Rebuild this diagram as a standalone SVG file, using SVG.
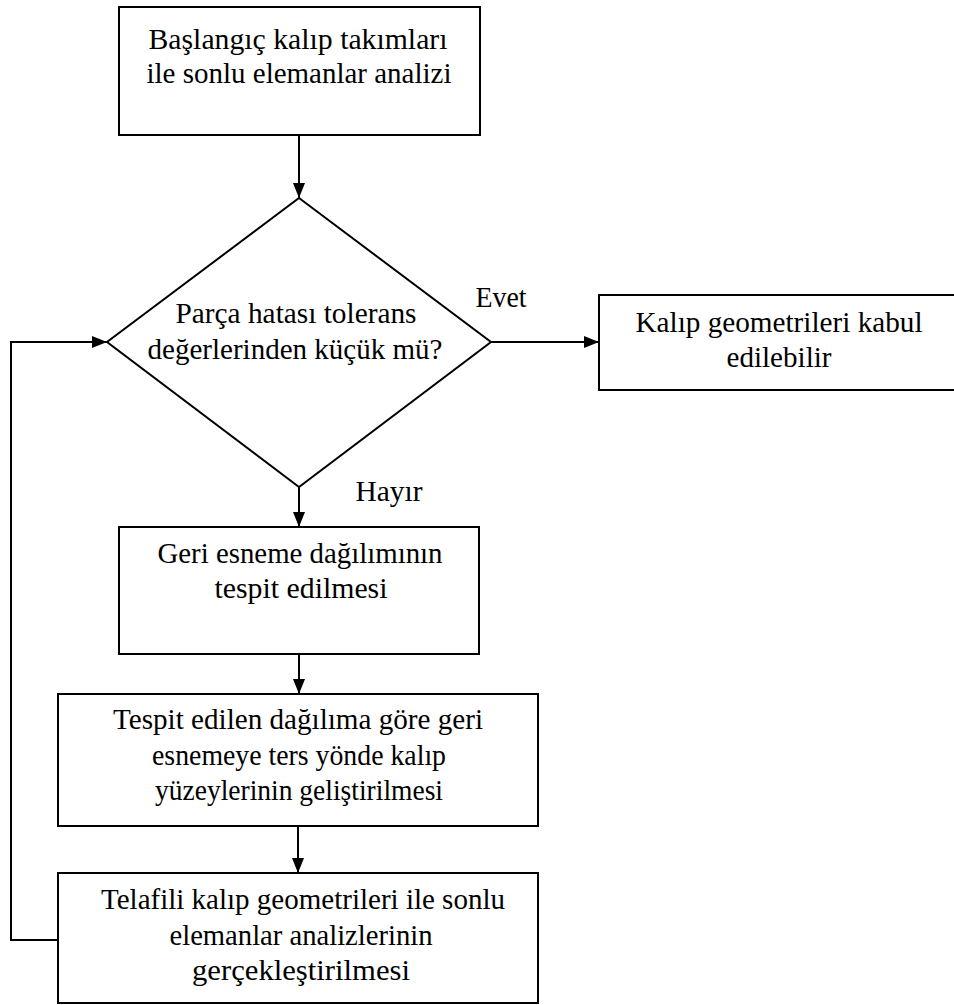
<svg xmlns="http://www.w3.org/2000/svg" width="954" height="1005" viewBox="0 0 954 1005">
<style>
.box{fill:#fff;stroke:#000;stroke-width:2}
.t{font-family:"Liberation Serif","Times New Roman",serif;font-size:29px;fill:#000;text-anchor:middle}
.c{fill:none;stroke:#000;stroke-width:2}
</style>
<defs>
<marker id="ah" markerWidth="15" markerHeight="12" refX="15" refY="6" orient="auto" markerUnits="userSpaceOnUse" viewBox="0 0 15 12">
<path d="M0,0 L15,6 L0,12 Z" fill="#000"/>
</marker>
</defs>
<rect width="954" height="1005" fill="#fff"/>
<g id="connectors">
<line class="c" x1="299" y1="135" x2="299" y2="198" marker-end="url(#ah)"/>
<line class="c" x1="491" y1="342" x2="599" y2="342" marker-end="url(#ah)"/>
<line class="c" x1="299" y1="487" x2="299" y2="527" marker-end="url(#ah)"/>
<line class="c" x1="299" y1="654" x2="299" y2="694" marker-end="url(#ah)"/>
<line class="c" x1="298" y1="826" x2="298" y2="873" marker-end="url(#ah)"/>
<polyline class="c" points="58,940 11,940 11,342 107,342" marker-end="url(#ah)"/>
<text class="t" x="501" y="307" textLength="51" lengthAdjust="spacingAndGlyphs">Evet</text>
<text class="t" x="389" y="501" textLength="67" lengthAdjust="spacingAndGlyphs">Hayır</text>
</g>
<g id="start">
<rect class="box" x="119" y="7" width="361" height="128"/>
<text class="t" x="298" y="49" textLength="299" lengthAdjust="spacingAndGlyphs">Başlangıç kalıp takımları</text>
<text class="t" x="299" y="83" textLength="305" lengthAdjust="spacingAndGlyphs">ile sonlu elemanlar analizi</text>
</g>
<g id="decision">
<polygon class="box" points="299,198 491,342 299,487 107,342"/>
<text class="t" x="296" y="323" textLength="241" lengthAdjust="spacingAndGlyphs">Parça hatası tolerans</text>
<text class="t" x="295" y="359" textLength="295" lengthAdjust="spacingAndGlyphs">değerlerinden küçük mü?</text>
</g>
<g id="accept">
<rect class="box" x="599" y="295" width="360" height="95"/>
<text class="t" x="779" y="332" textLength="287" lengthAdjust="spacingAndGlyphs">Kalıp geometrileri kabul</text>
<text class="t" x="779" y="367" textLength="105" lengthAdjust="spacingAndGlyphs">edilebilir</text>
</g>
<g id="distribution">
<rect class="box" x="119" y="527" width="360" height="127"/>
<text class="t" x="300" y="563" textLength="285" lengthAdjust="spacingAndGlyphs">Geri esneme dağılımının</text>
<text class="t" x="301" y="598" textLength="173" lengthAdjust="spacingAndGlyphs">tespit edilmesi</text>
</g>
<g id="surfaces">
<rect class="box" x="58" y="694" width="480" height="132"/>
<text class="t" x="298" y="729" textLength="370" lengthAdjust="spacingAndGlyphs">Tespit edilen dağılıma göre geri</text>
<text class="t" x="299" y="765" textLength="294" lengthAdjust="spacingAndGlyphs">esnemeye ters yönde kalıp</text>
<text class="t" x="299" y="800" textLength="288" lengthAdjust="spacingAndGlyphs">yüzeylerinin geliştirilmesi</text>
</g>
<g id="reanalysis">
<rect class="box" x="58" y="873" width="480" height="130"/>
<text class="t" x="303" y="909" textLength="404" lengthAdjust="spacingAndGlyphs">Telafili kalıp geometrileri ile sonlu</text>
<text class="t" x="301" y="945" textLength="263" lengthAdjust="spacingAndGlyphs">elemanlar analizlerinin</text>
<text class="t" x="301" y="980" textLength="218" lengthAdjust="spacingAndGlyphs">gerçekleştirilmesi</text>
</g>
</svg>
